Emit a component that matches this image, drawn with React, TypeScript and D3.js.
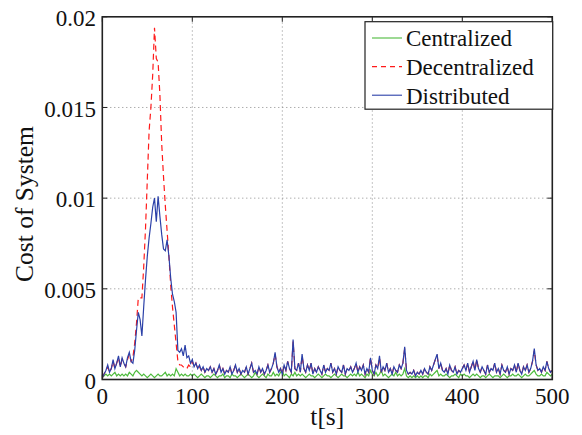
import React from "react";
import * as d3 from "d3";

// time step of the samples (s)
const STEP = 2;
// values are stored in units of 1e-4
const UNIT = 1e-4;

const centralized = [
  1, 2, 3, 2, 3, 2, 3, 4, 2, 3, 2, 3, 2, 3, 2, 4, 3, 2, 4, 5,
  4, 3, 2, 3, 2, 1, 2, 3, 2, 1, 2, 3, 2, 2, 3, 4, 2, 3, 2, 3,
  2, 6, 4, 2, 3, 2, 3, 2, 2, 3,
  2, 3, 2, 1, 2, 3, 2, 1, 2, 2,
  1, 2, 3, 2, 1, 2, 2, 3, 1, 2,
  2, 1, 3, 2, 2, 1, 2, 3, 2, 1,
  2, 3, 2, 1, 2, 4, 2, 1, 2, 3,
  2, 1, 3, 2, 2, 4, 2, 3, 2, 4,
  5, 2, 3, 2, 1, 3, 2, 4, 2, 3,
  2, 3, 2, 1, 2, 3, 2, 2, 1, 2,
  3, 2, 1, 2, 3, 2, 2, 1, 2, 3,
  2, 1, 2, 3, 2, 2, 1, 2, 3, 2,
  3, 2, 4, 2, 3, 2, 1, 3, 2, 5,
  3, 2, 4, 2, 3, 5, 2, 3, 2, 1,
  2, 3, 2, 4, 2, 3, 2, 3, 6, 2,
  1, 2, 1, 2, 1, 2, 1, 2, 1, 2,
  2, 1, 3, 2, 3, 4, 5, 2, 3, 2,
  2, 3, 2, 1, 2, 2, 3, 2, 1, 3,
  2, 3, 2, 2, 1, 2, 3, 2, 3, 2,
  1, 2, 2, 1, 2, 3, 2, 1, 2, 2,
  2, 1, 2, 3, 2, 1, 2, 2, 3, 2,
  2, 3, 2, 1, 2, 3, 2, 2, 3, 4,
  5, 3, 2, 2, 3, 2, 2, 4, 3, 2,
  3,
];

const decentralized = [
  1, 3, 5, 7, 4, 6, 10, 6, 9, 12, 7, 11, 9, 7, 11, 14, 10, 12, 20, 31,
  45, 45, 45, 62, 83, 110, 137, 150, 168, 194, 177, 175, 157, 130, 112, 96, 82, 68, 52, 40,
  30, 20, 10, 8, 8, 7, 6, 6, 8, 7,
  10, 7, 9, 6, 7, 5, 7, 4, 6, 5,
  7, 4, 6, 3, 5, 8, 4, 6, 3, 5,
  4, 7, 3, 5, 8, 4, 6, 3, 5, 4,
  7, 3, 6, 9, 4, 5, 3, 7, 4, 6,
  3, 5, 8, 4, 6, 9, 14, 7, 4, 6,
  3, 8, 5, 10, 6, 4, 21, 6, 5, 9,
  4, 13, 6, 4, 8, 5, 9, 3, 6, 4,
  7, 5, 3, 8, 4, 6, 5, 9, 4, 6,
  3, 7, 5, 4, 8, 3, 6, 5, 7, 4,
  6, 9, 4, 7, 5, 8, 3, 6, 4, 12,
  5, 3, 8, 6, 12, 4, 7, 5, 9, 4,
  6, 3, 7, 5, 4, 8, 6, 9, 17, 5,
  3, 4, 3, 5, 2, 4, 3, 5, 3, 6,
  4, 3, 7, 5, 8, 11, 13, 6, 9, 5,
  4, 6, 3, 8, 5, 4, 7, 3, 5, 4,
  6, 8, 5, 9, 4, 7, 10, 5, 11, 6,
  4, 7, 5, 3, 8, 4, 6, 5, 9, 4,
  6, 3, 8, 5, 4, 7, 3, 6, 5, 8,
  4, 9, 5, 3, 7, 5, 8, 4, 6, 10,
  16, 8, 5, 6, 4, 7, 5, 10, 6, 4,
  5,
];

const distributed = [
  1, 3, 5, 8, 4, 6, 11, 6, 9, 13, 7, 12, 9, 7, 12, 15, 10, 9, 16, 27,
  37, 33, 24, 40, 55, 68, 78, 86, 95, 100, 87, 101, 90, 80, 72, 71, 77, 68, 56, 47,
  43, 37, 16, 15, 17, 13, 19, 12, 13, 9,
  11, 7, 9, 6, 8, 5, 7, 4, 6, 5,
  7, 4, 6, 3, 5, 8, 4, 6, 3, 5,
  4, 7, 3, 5, 8, 4, 6, 3, 5, 4,
  7, 3, 6, 9, 4, 5, 3, 7, 4, 6,
  3, 5, 8, 4, 6, 9, 15, 7, 4, 6,
  3, 8, 5, 10, 6, 4, 22, 6, 5, 9,
  4, 14, 6, 4, 8, 5, 9, 3, 6, 4,
  7, 5, 3, 8, 4, 6, 5, 9, 4, 6,
  3, 7, 5, 4, 8, 3, 6, 5, 7, 4,
  6, 9, 4, 7, 5, 8, 3, 6, 4, 12,
  5, 3, 8, 6, 13, 4, 7, 5, 9, 4,
  6, 3, 7, 5, 4, 8, 6, 9, 18, 5,
  3, 4, 3, 5, 2, 4, 3, 5, 3, 6,
  4, 3, 7, 5, 8, 11, 14, 6, 9, 5,
  4, 6, 3, 8, 5, 4, 7, 3, 5, 4,
  6, 8, 5, 9, 4, 7, 10, 5, 11, 6,
  4, 7, 5, 3, 8, 4, 6, 5, 9, 4,
  6, 3, 8, 5, 4, 7, 3, 6, 5, 8,
  4, 9, 5, 3, 7, 5, 8, 4, 6, 10,
  17, 8, 5, 6, 4, 7, 5, 10, 6, 4,
  5,
];

const xTicks = [0, 100, 200, 300, 400, 500];
const yTicks = [0, 0.005, 0.01, 0.015, 0.02];
const yTickLabels = ["0", "0.005", "0.01", "0.015", "0.02"];
const seriesNames = ["Centralized", "Decentralized", "Distributed"];

const W = 582;
const H = 435;
const X0 = 102.3;
const X1 = 552.3;
const Y0 = 379.5;
const Y1 = 16.8;
const SERIF = "Liberation Serif";
const TS: React.CSSProperties = { fontFamily: SERIF, fontSize: 23 };
const TL: React.CSSProperties = { fontFamily: SERIF, fontSize: 25.5 };

export default function App() {
  const x = d3.scaleLinear().domain([0, 500]).range([X0, X1]);
  const y = d3.scaleLinear().domain([0, 0.02]).range([Y0, Y1]);
  const line = d3
    .line<number>()
    .x((_, i) => x(i * STEP))
    .y((v) => y(v * UNIT));

  const series = [
    { name: seriesNames[0], data: centralized, color: "#4dbb3c", dash: undefined as string | undefined },
    { name: seriesNames[1], data: decentralized, color: "#ff1a1a", dash: "6,4" },
    { name: seriesNames[2], data: distributed, color: "#2b40a8", dash: undefined as string | undefined },
  ];

  const tickLen = 5;
  const legX = 365;
  const legY = 21.7;
  const legW = 187.7;
  const legH = 87.5;
  const rowY = [38, 66.6, 95.2];

  return (
    <svg
      width={W}
      height={H}
      style={{ position: "absolute", left: 0, top: 0, background: "#fff" }}
    >
      <rect x={0} y={0} width={W} height={H} fill="#fff" />
      <defs>
        <clipPath id="plotclip">
          <rect x={X0} y={Y1} width={X1 - X0} height={Y0 - Y1} />
        </clipPath>
      </defs>
      {/* grid */}
      <g stroke="#8a8a8a" strokeWidth={1} strokeDasharray="1,3">
        {xTicks.slice(1, -1).map((t) => (
          <line key={"gx" + t} x1={x(t)} x2={x(t)} y1={Y0} y2={Y1} />
        ))}
        {yTicks.slice(1, -1).map((t) => (
          <line key={"gy" + t} x1={X0} x2={X1} y1={y(t)} y2={y(t)} />
        ))}
      </g>
      {/* series */}
      <g clipPath="url(#plotclip)" fill="none">
        {series.map((s) => (
          <path
            key={s.name}
            d={line(s.data) || ""}
            stroke={s.color}
            strokeWidth={1.2}
            strokeDasharray={s.dash}
          />
        ))}
      </g>
      {/* ticks */}
      <g stroke="#222" strokeWidth={1}>
        {xTicks.map((t) => (
          <g key={"tx" + t}>
            <line x1={x(t)} x2={x(t)} y1={Y0} y2={Y0 - tickLen} />
            <line x1={x(t)} x2={x(t)} y1={Y1} y2={Y1 + tickLen} />
          </g>
        ))}
        {yTicks.map((t) => (
          <g key={"ty" + t}>
            <line x1={X0} x2={X0 + tickLen} y1={y(t)} y2={y(t)} />
            <line x1={X1} x2={X1 - tickLen} y1={y(t)} y2={y(t)} />
          </g>
        ))}
      </g>
      {/* box */}
      <rect
        x={X0}
        y={Y1}
        width={X1 - X0}
        height={Y0 - Y1}
        fill="none"
        stroke="#222"
        strokeWidth={1.6}
      />
      {/* tick labels */}
      {xTicks.map((t) => (
        <text key={"lx" + t} x={x(t)} y={404} textAnchor="middle" fill="#111" style={TS}>
          {String(t)}
        </text>
      ))}
      {yTicks.map((t, i) => (
        <text key={"ly" + t} x={96} y={y(t) + 9.3} textAnchor="end" fill="#111" style={TS}>
          {yTickLabels[i]}
        </text>
      ))}
      <text x={(X0 + X1) / 2} y={425} textAnchor="middle" fill="#111" style={TL}>
        t[s]
      </text>
      <text
        transform={`translate(33, 204) rotate(-90)`}
        textAnchor="middle"
        fill="#111"
        style={TL}
      >
        Cost of System
      </text>
      {/* legend */}
      <rect x={legX} y={legY} width={legW} height={legH} fill="#fff" stroke="#222" strokeWidth={1.2} />
      {series.map((s, i) => (
        <line
          key={"legl" + s.name}
          x1={372}
          x2={402}
          y1={rowY[i]}
          y2={rowY[i]}
          stroke={s.color}
          strokeWidth={1.1}
          strokeDasharray={s.dash ? "5,4" : undefined}
        />
      ))}
      {series.map((s, i) => (
        <text key={"legt" + s.name} x={406} y={rowY[i] + 8.3} fill="#111" style={TS}>
          {s.name}
        </text>
      ))}
    </svg>
  );
}
